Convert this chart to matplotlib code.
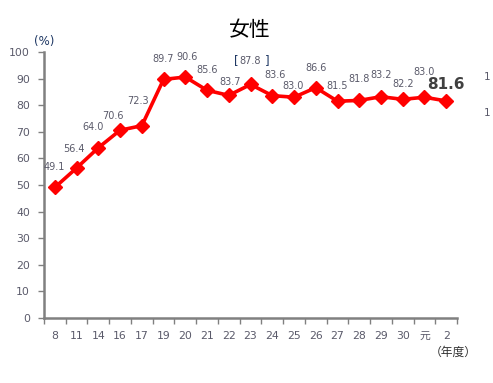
import matplotlib.pyplot as plt

plt.rcParams['font.family'] = ['DejaVu Sans', 'Noto Sans CJK JP']

# ================================
# Data
# ================================
years = ["8", "11", "14", "16", "17", "19", "20", "21", "22", "23",
         "24", "25", "26", "27", "28", "29", "30", "元", "2"]
rates = [49.1, 56.4, 64.0, 70.6, 72.3, 89.7, 90.6, 85.6, 83.7, 87.8,
         83.6, 83.0, 86.6, 81.5, 81.8, 83.2, 82.2, 83.0, 81.6]

# label offsets (pixels) from each point
label_dx = [-1, -3, -5, -7, -4, 0, 2, 0, 1, 0, 3, -1, 0, 0, 0, 0, 0, 0, 0]
label_dy = [20, 19, 21, 14, 25, 20, 20, 20, 13, 23, 21, 11, 20, 15, 21, 22, 15, 25, 16]

text_col = "#5a5a6a"
navy = "#1f3864"

fig = plt.figure(figsize=(4.93, 3.83), dpi=100)
ax = fig.add_axes([0.0892, 0.1697, 0.838, 0.6945])

x = list(range(len(years)))
ax.plot(x, rates, color="#ff0000", lw=2.6, marker="D", ms=6.8,
        markeredgecolor="#ff0000", zorder=3)

for i, v in enumerate(rates):
    if i == len(rates) - 1:
        ax.annotate(f"{v:.1f}", (i, v), xytext=(label_dx[i], label_dy[i]),
                    textcoords="offset pixels", ha="center", va="center",
                    fontsize=11, fontweight="bold", color="#404040")
    elif years[i] == "23":
        ax.annotate(f"{v:.1f}", (i, v), xytext=(label_dx[i], label_dy[i]),
                    textcoords="offset pixels", ha="center", va="center",
                    fontsize=7, color=text_col)
        ax.annotate("[", (i, v), xytext=(label_dx[i] - 14, label_dy[i] + 1),
                    textcoords="offset pixels", ha="center", va="center",
                    fontsize=8.5, color=navy)
        ax.annotate("]", (i, v), xytext=(label_dx[i] + 17, label_dy[i] + 1),
                    textcoords="offset pixels", ha="center", va="center",
                    fontsize=8.5, color=navy)
    else:
        ax.annotate(f"{v:.1f}", (i, v), xytext=(label_dx[i], label_dy[i]),
                    textcoords="offset pixels", ha="center", va="center",
                    fontsize=7, color=text_col)

ax.set_xlim(-0.5, len(years) - 0.5)
ax.set_ylim(0, 100)
ax.set_yticks(range(0, 101, 10))
ax.tick_params(axis="y", labelsize=7.8, labelcolor=text_col, color="#808080",
               length=4, width=1, pad=6)

# boundary ticks on the x axis, labels at centres
ax.set_xticks([i - 0.5 for i in range(len(years) + 1)])
ax.set_xticklabels([])
ax.set_xticks(x, minor=True)
ax.set_xticklabels(years, minor=True)
ax.tick_params(axis="x", which="major", color="#808080", length=4, width=1)
ax.tick_params(axis="x", which="minor", length=0, labelsize=7.8,
               labelcolor=text_col, pad=9)

for s in ["top", "right"]:
    ax.spines[s].set_visible(False)
ax.spines["left"].set_color("#808080")
ax.spines["left"].set_linewidth(1.8)
ax.spines["bottom"].set_color("#808080")
ax.spines["bottom"].set_linewidth(1.8)

fig.text(0.507, 0.922, "女性", ha="center", va="center", fontsize=15,
         color="black")
fig.text(0.089, 0.892, "(%)", ha="center", va="center", fontsize=8.5,
         color=navy)
fig.text(0.92, 0.08, "（年度）", ha="center", va="center", fontsize=8.5,
         color="#303030")
fig.text(0.982, 0.80, "1", ha="left", va="center", fontsize=7.5,
         color=text_col)
fig.text(0.982, 0.705, "1", ha="left", va="center", fontsize=7.5,
         color=text_col)

fig.savefig("out.png", dpi=100)
